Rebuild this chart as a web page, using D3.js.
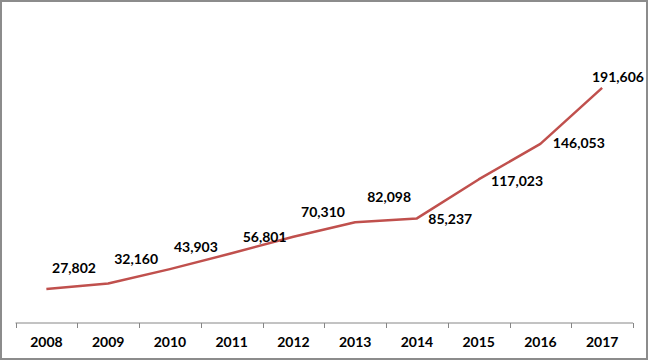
<!DOCTYPE html>
<html>
<head>
<meta charset="utf-8">
<script src="https://cdn.jsdelivr.net/npm/d3@7"></script>
<style>
  html, body { margin: 0; padding: 0; background: #fff; }
  svg { display: block; }
  text { font-family: Lato, "Open Sans", sans-serif; font-weight: bold; fill: #000; }
</style>
</head>
<body>
<svg id="chart" width="649" height="361"></svg>
<script>
// ---- data ----
const years = ["2008", "2009", "2010", "2011", "2012", "2013", "2014", "2015", "2016", "2017"];
const values = [27802, 32160, 43903, 56801, 70310, 82098, 85237, 117023, 146053, 191606];
const yDomain = [0, 250000];

// label placement offsets (style, not data)
const labelDx = [27.6, 28, 26, 33, 29.6, 34, 33.4, 38.4, 38.4, 15.8];
const labelDy = [-21, -25.5, -23, -17, -25, -25.6, 0.3, 0.6, -1, -11];

const svg = d3.select("#chart");
const W = 649, H = 361;

// outer border
svg.append("rect")
  .attr("x", 1).attr("y", 1)
  .attr("width", 646).attr("height", 358)
  .attr("fill", "#fff")
  .attr("stroke", "#8c8c8c")
  .attr("stroke-width", 2);

const x = d3.scaleBand().domain(years).range([15.5, 633]).padding(0);
const y = d3.scaleLinear().domain(yDomain).range([323, 16.3]);
const cx = d => x(d) + x.bandwidth() / 2;

// axis
const axisG = svg.append("g").attr("transform", "translate(0,323)");
axisG.call(d3.axisBottom(x).tickSize(0).tickPadding(14))
  .call(g => g.select(".domain").remove())
  .call(g => g.selectAll("text")
    .attr("font-size", 14)
    .attr("font-family", "Lato, sans-serif")
    .attr("font-weight", "bold")
    .attr("fill", "#000"));

axisG.append("line")
  .attr("x1", x.range()[0]).attr("x2", x.range()[1])
  .attr("y1", 0).attr("y2", 0)
  .attr("stroke", "#868686").attr("stroke-width", 1);

const edges = years.map(d => x(d)).concat([x.range()[1]]);
axisG.selectAll("line.tk").data(edges).enter().append("line")
  .attr("class", "tk")
  .attr("x1", d => Math.round(d) + 0.5).attr("x2", d => Math.round(d) + 0.5)
  .attr("y1", 0).attr("y2", 5)
  .attr("stroke", "#868686").attr("stroke-width", 1);

// line
const pts = years.map((yr, i) => [cx(yr), y(values[i])]);
svg.append("path")
  .datum(pts)
  .attr("d", d3.line())
  .attr("fill", "none")
  .attr("stroke", "#C0504D")
  .attr("stroke-width", 2.5)
  .attr("stroke-linejoin", "round")
  .attr("stroke-linecap", "butt");

// data labels
const fmt = d3.format(",");
svg.selectAll("text.lbl").data(values).enter().append("text")
  .attr("class", "lbl")
  .attr("x", (v, i) => cx(years[i]) + labelDx[i])
  .attr("y", (v, i) => y(v) + labelDy[i])
  .attr("text-anchor", "middle")
  .attr("dominant-baseline", "central")
  .attr("font-size", 14)
  .text(v => fmt(v));
</script>
</body>
</html>
